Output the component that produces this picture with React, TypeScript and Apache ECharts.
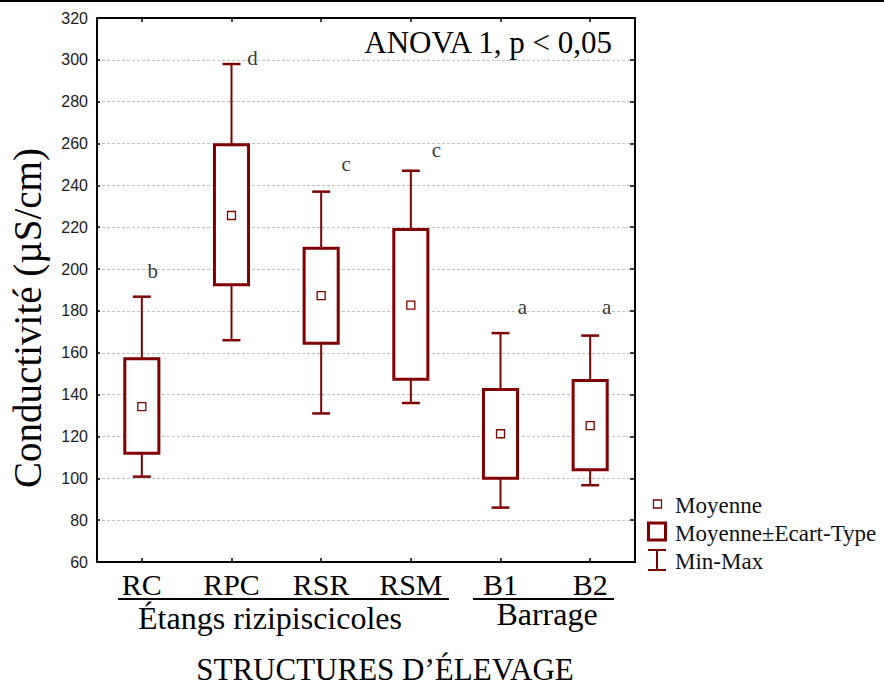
import React, { useEffect, useRef } from 'react';
import * as echarts from 'echarts';

// ---- data ----
const categories = ['RC', 'RPC', 'RSR', 'RSM', 'B1', 'B2'];
const minValues = [100.8, 166, 131, 136, 86, 96.7];
const lowerValues = [112, 192.5, 164.6, 147.4, 100, 104.1]; // moyenne - écart-type
const meanValues = [134.3, 225.6, 187.3, 182.8, 121.3, 125.2];
const upperValues = [157.1, 259.4, 210, 218.9, 142.5, 146.8]; // moyenne + écart-type
const maxValues = [186.8, 298, 237, 247, 169.4, 168.2];
const letters = ['b', 'd', 'c', 'c', 'a', 'a'];
const letterValues = [199, 301, 250, 257, 182, 182];
const yMin = 60;
const yMax = 320;
const yStep = 20;

// layout only (horizontal shift of letters, px)
const letterDx = [11, 21, 25, 25.5, 22, 16.5];

const RED = '#800000';
const SERIF = '"Liberation Serif", "Times New Roman", serif';
const SANS = '"Liberation Sans", Arial, sans-serif';

export default function App() {
  const ref = useRef<HTMLDivElement>(null);

  useEffect(() => {
    if (!ref.current) return;
    const chart = echarts.init(ref.current, null, { renderer: 'svg' });

    const boxData = categories.map((_, i) => [
      i,
      minValues[i],
      lowerValues[i],
      meanValues[i],
      upperValues[i],
      maxValues[i],
    ]);

    const renderItem = (params: any, api: any) => {
      const idx = api.value(0);
      const pMin = api.coord([idx, api.value(1)]);
      const pLow = api.coord([idx, api.value(2)]);
      const pMean = api.coord([idx, api.value(3)]);
      const pUp = api.coord([idx, api.value(4)]);
      const pMax = api.coord([idx, api.value(5)]);
      const band = api.size([1, 0])[0];
      const bw = band * 0.38;
      const cw = band * 0.2;
      const x = pMean[0];
      const ws = { stroke: RED, lineWidth: 2 };
      const cs = { stroke: RED, lineWidth: 2.5 };
      return {
        type: 'group',
        children: [
          { type: 'line', shape: { x1: x, y1: pMax[1], x2: x, y2: pUp[1] }, style: ws },
          { type: 'line', shape: { x1: x, y1: pLow[1], x2: x, y2: pMin[1] }, style: ws },
          { type: 'line', shape: { x1: x - cw / 2, y1: pMax[1], x2: x + cw / 2, y2: pMax[1] }, style: cs },
          { type: 'line', shape: { x1: x - cw / 2, y1: pMin[1], x2: x + cw / 2, y2: pMin[1] }, style: cs },
          {
            type: 'rect',
            shape: { x: x - bw / 2, y: pUp[1], width: bw, height: pLow[1] - pUp[1] },
            style: { fill: '#fff', stroke: RED, lineWidth: 3 },
          },
          {
            type: 'rect',
            shape: { x: x - 4, y: pMean[1] - 4, width: 8, height: 8 },
            style: { fill: '#fff', stroke: RED, lineWidth: 1.3 },
          },
        ],
      };
    };

    const axisLine = { show: true, lineStyle: { color: '#000', width: 2 } };

    const option: any = {
      animation: false,
      grid: { left: 97, top: 18, right: 249, bottom: 126, containLabel: false },
      xAxis: [
        {
          type: 'category',
          data: categories,
          position: 'bottom',
          axisLine,
          axisTick: { show: true, inside: true, alignWithLabel: true, length: 4, lineStyle: { color: '#000', width: 1.5 } },
          axisLabel: { fontFamily: SERIF, fontSize: 30, color: '#000', margin: 7 },
          splitLine: { show: false },
        },
        {
          type: 'category',
          data: categories,
          position: 'top',
          axisLine,
          axisTick: { show: true, inside: true, alignWithLabel: true, length: 4, lineStyle: { color: '#000', width: 1.5 } },
          axisLabel: { show: false },
          splitLine: { show: false },
        },
      ],
      yAxis: [
        {
          type: 'value',
          min: yMin,
          max: yMax,
          interval: yStep,
          axisLine,
          axisTick: { show: true, inside: true, length: 3, lineStyle: { color: '#000', width: 1.5 } },
          axisLabel: { fontFamily: SANS, fontSize: 16, color: '#1a1a1a', margin: 9 },
          splitLine: { show: true, lineStyle: { color: '#c4c4c4', type: [3, 2], width: 1 } },
        },
        {
          type: 'value',
          position: 'right',
          min: yMin,
          max: yMax,
          interval: yStep,
          axisLine,
          axisTick: { show: true, inside: true, length: 5, lineStyle: { color: '#000', width: 1.5 } },
          axisLabel: { show: false },
          splitLine: { show: false },
        },
      ],
      series: [
        {
          type: 'custom',
          renderItem,
          data: boxData,
          encode: { x: 0, y: [1, 2, 3, 4, 5] },
          z: 10,
        },
        {
          type: 'scatter',
          symbolSize: 1,
          itemStyle: { color: 'rgba(0,0,0,0)' },
          data: letterValues.map((v, i) => ({ value: [i, v], label: { offset: [letterDx[i], 0] } })),
          label: {
            show: true,
            position: 'inside',
            formatter: (p: any) => letters[p.dataIndex],
            fontFamily: SERIF,
            fontSize: 21,
            color: '#000',
          },
          z: 11,
        },
      ],
      graphic: [
        { type: 'rect', shape: { x: 0, y: 0, width: 884, height: 2 }, style: { fill: '#000' } },
        {
          type: 'text',
          x: 612,
          y: 42,
          style: { text: 'ANOVA 1, p < 0,05', font: `31px ${SERIF}`, fill: '#000', align: 'right', verticalAlign: 'middle' },
        },
        {
          type: 'text',
          x: 27,
          y: 318,
          rotation: Math.PI / 2,
          style: { text: 'Conductivité (µS/cm)', font: `39px ${SERIF}`, fill: '#000', align: 'center', verticalAlign: 'middle' },
        },
        { type: 'line', shape: { x1: 118, y1: 599, x2: 449, y2: 599 }, style: { stroke: '#000', lineWidth: 2 } },
        { type: 'line', shape: { x1: 473, y1: 599, x2: 614, y2: 599 }, style: { stroke: '#000', lineWidth: 2 } },
        {
          type: 'text',
          x: 270,
          y: 618,
          style: { text: 'Étangs rizipiscicoles', font: `32px ${SERIF}`, fill: '#000', align: 'center', verticalAlign: 'middle' },
        },
        {
          type: 'text',
          x: 547,
          y: 614,
          style: { text: 'Barrage', font: `32px ${SERIF}`, fill: '#000', align: 'center', verticalAlign: 'middle' },
        },
        {
          type: 'text',
          x: 385,
          y: 669,
          style: { text: 'STRUCTURES D’ÉLEVAGE', font: `31px ${SERIF}`, fill: '#000', align: 'center', verticalAlign: 'middle' },
        },
        // legend
        { type: 'rect', shape: { x: 653.5, y: 500, width: 8, height: 8 }, style: { fill: '#fff', stroke: RED, lineWidth: 1.3 } },
        { type: 'rect', shape: { x: 648.5, y: 523, width: 17, height: 17 }, style: { fill: '#fff', stroke: RED, lineWidth: 3 } },
        { type: 'line', shape: { x1: 648, y1: 550, x2: 666, y2: 550 }, style: { stroke: RED, lineWidth: 2 } },
        { type: 'line', shape: { x1: 657, y1: 550, x2: 657, y2: 570 }, style: { stroke: RED, lineWidth: 2 } },
        { type: 'line', shape: { x1: 648, y1: 570, x2: 666, y2: 570 }, style: { stroke: RED, lineWidth: 2 } },
        { type: 'text', x: 675, y: 505, style: { text: 'Moyenne', font: `23px ${SERIF}`, fill: '#111', verticalAlign: 'middle' } },
        { type: 'text', x: 675, y: 533, style: { text: 'Moyenne±Ecart-Type', font: `23px ${SERIF}`, fill: '#111', verticalAlign: 'middle' } },
        { type: 'text', x: 675, y: 561, style: { text: 'Min-Max', font: `23px ${SERIF}`, fill: '#111', verticalAlign: 'middle' } },
      ],
    };

    chart.setOption(option);
    return () => chart.dispose();
  }, []);

  return (
    <div
      ref={ref}
      style={{ position: 'fixed', left: 0, top: 0, width: 884, height: 688, background: '#fff' }}
    />
  );
}
